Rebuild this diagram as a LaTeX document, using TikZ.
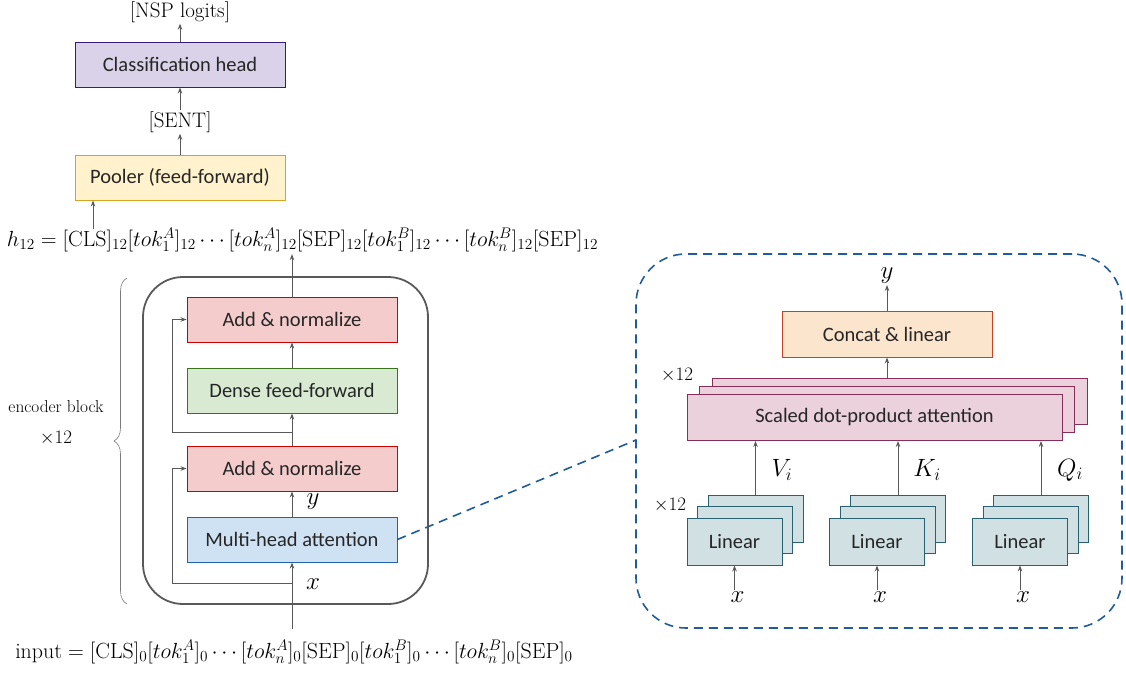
\RequirePackage{fix-cm}
\documentclass[tikz,border=0pt]{standalone}
\usepackage{fontspec}
\newfontfamily\boxfont{Carlito}
\usetikzlibrary{arrows.meta,decorations.pathreplacing,calc}
\definecolor{arrgray}{HTML}{595959}
\definecolor{clsfill}{HTML}{D9D2E9}\definecolor{clsdraw}{HTML}{351C75}
\definecolor{poolfill}{HTML}{FFF2CC}\definecolor{pooldraw}{HTML}{D6A520}
\definecolor{addfill}{HTML}{F4CCCC}\definecolor{adddraw}{HTML}{CC0000}
\definecolor{densefill}{HTML}{D9EAD3}\definecolor{densedraw}{HTML}{38761D}
\definecolor{mhafill}{HTML}{CFE2F3}\definecolor{mhadraw}{HTML}{1F64AD}
\definecolor{catfill}{HTML}{FCE5CD}\definecolor{catdraw}{HTML}{CC4125}
\definecolor{sdpfill}{HTML}{EAD1DC}\definecolor{sdpdraw}{HTML}{862D5A}
\definecolor{linfill}{HTML}{D0E0E3}\definecolor{lindraw}{HTML}{2A6170}
\definecolor{dashblue}{HTML}{1F5C99}
\begin{document}
\begin{tikzpicture}[x=1pt,y=-1pt,
  blk/.style={draw, line width=0.9pt, inner sep=0pt, text=black!85, font=\boxfont\fontsize{20.5}{24}\selectfont},
  wide/.style={blk, minimum width=210pt, minimum height=45pt},
  arr/.style={draw=arrgray, line width=0.9pt, -{Stealth[length=6pt,width=4.5pt]}},
  lbl/.style={inner sep=1pt, font=\fontsize{21}{24}\selectfont},
  mlbl/.style={inner sep=1pt, font=\fontsize{25}{28}\selectfont},
  small/.style={inner sep=1pt, font=\fontsize{17.3}{20}\selectfont},
  times/.style={inner sep=1pt, font=\fontsize{19}{22}\selectfont},
  eq/.style={inner sep=2pt, font=\fontsize{21.9}{26}\selectfont},
  linbox/.style={blk, fill=linfill, draw=lindraw, minimum width=95pt, minimum height=47pt},
  sdpbox/.style={blk, fill=sdpfill, draw=sdpdraw, minimum width=375pt, minimum height=46pt}
]
\useasboundingbox (0,0) rectangle (1126,672);

% ---------- left column ----------
\node[lbl] (nsp) at (180,12) {[NSP logits]};
\node[wide, fill=clsfill, draw=clsdraw] (cls) at (180,64.5) {Classification head};
\node[lbl] (sent) at (180,122) {[SENT]};
\node[wide, fill=poolfill, draw=pooldraw] (pool) at (180,177.5) {Pooler (feed-forward)};
\node[eq] (h12) at (302.5,240) {$h_{12} = [\mathrm{CLS}]_{12}[tok_1^A]_{12}\cdots[tok_n^A]_{12}[\mathrm{SEP}]_{12}[tok_1^B]_{12}\cdots[tok_n^B]_{12}[\mathrm{SEP}]_{12}$};

\node[draw=arrgray, line width=1.8pt, rounded corners=40pt, minimum width=285pt, minimum height=327pt, inner sep=0pt] (enc) at (285.5,440.5) {};
\node[wide, fill=addfill, draw=adddraw] (add2) at (292,319.5) {Add \& normalize};
\node[wide, fill=densefill, draw=densedraw] (dense) at (292,390.5) {Dense feed-forward};
\node[wide, fill=addfill, draw=adddraw] (add1) at (292,468.5) {Add \& normalize};
\node[wide, fill=mhafill, draw=mhadraw] (mha) at (292,539.5) {Multi-head attention};
\node[mlbl] (ylab) at (313,502) {$y$};
\node[mlbl] (xlab) at (313,584) {$x$};
\node[eq] (inp) at (294,652) {$\mathrm{input} = [\mathrm{CLS}]_0[tok_1^A]_0\cdots[tok_n^A]_0[\mathrm{SEP}]_0[tok_1^B]_0\cdots[tok_n^B]_0[\mathrm{SEP}]_0$};

\node[small] (encl) at (56,407) {encoder block};
\node[times] (encx) at (56,438) {$\times 12$};
\coordinate (bb) at (127,604);
\coordinate (bt) at (127,278);
\draw[arrgray!80, line width=0.6pt, decorate, decoration={brace, amplitude=13pt}] (bb) -- (bt);

\draw[arr] (cls.north) -- (nsp.south);
\draw[arr] (sent.north) -- (cls.south);
\draw[arr] (pool.north) -- (sent.south);
\coordinate (hp) at (93,229);
\draw[arr] (hp) -- (hp |- pool.south);
\draw[arr] (add2.north) -- (add2.north |- h12.south);
\draw[arr] (dense.north) -- (add2.south);
\draw[arr] (add1.north) -- (dense.south);
\draw[arr] (mha.north) -- (add1.south);
\coordinate (inpt) at (292,629);
\draw[arr] (inpt) -- (mha.south);
\coordinate (r1) at (292,583);
\coordinate (r1c) at (172,583);
\draw[arr] (r1) -- (r1c) |- (add1.west);
\coordinate (r2) at (292,432);
\coordinate (r2c) at (172,432);
\draw[arr] (r2) -- (r2c) |- (add2.west);

% ---------- right panel ----------
\node[draw=dashblue, line width=1.6pt, dash pattern=on 9pt off 6pt, rounded corners=50pt, minimum width=486pt, minimum height=374pt, inner sep=0pt] (panel) at (879,441) {};
\coordinate (pl) at (636,440);
\draw[draw=dashblue, line width=1.6pt, dash pattern=on 9pt off 6pt] (mha.east) -- (pl);

\node[mlbl] (yout) at (887,276) {$y$};
\node[wide, minimum height=46pt, fill=catfill, draw=catdraw] (cat) at (887,334) {Concat \& linear};
\node[sdpbox] (sdp3) at (899.5,401.5) {};
\node[sdpbox] (sdp2) at (887,409.5) {};
\node[sdpbox] (sdp1) at (874.5,417.5) {Scaled dot-product attention};
\node[times] (sx) at (677,375) {$\times 12$};
\draw[arr] (cat.north) -- (yout.south);
\draw[arr] (cat.south |- sdp3.north) -- (cat.south);

\node[times] (lx) at (670,505) {$\times 12$};
\foreach \n/\cx/\lab/\lx in {v/734.5/V_i/782, k/877/K_i/927, q/1020/Q_i/1070}{
  \node[linbox] (\n3) at (\cx+21,518.5) {};
  \node[linbox] (\n2) at (\cx+10.5,530) {};
  \node[linbox] (\n1) at (\cx,541.5) {Linear};
  \node[mlbl] (\n x) at (\cx+3,597) {$x$};
  \node[mlbl] (\n l) at (\lx,470) {$\lab$};
  \draw[arr] (\n1.south |- \n x.north) -- (\n1.south);
  \draw[arr] (\n3.north) -- (\n3.north |- sdp1.south);
}
\end{tikzpicture}
\end{document}
